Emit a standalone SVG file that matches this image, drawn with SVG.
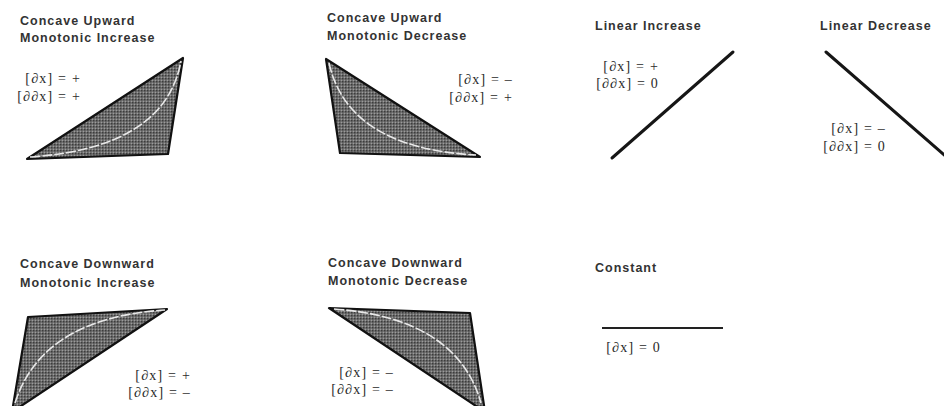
<svg xmlns="http://www.w3.org/2000/svg" width="944" height="406" viewBox="0 0 944 406">
<defs>
<pattern id="stip" width="3" height="3" patternUnits="userSpaceOnUse">
<rect width="3" height="3" fill="#6e6e6e"/>
<circle cx="0.8" cy="0.8" r="0.7" fill="#2a2a2a"/>
<circle cx="2.3" cy="2.2" r="0.5" fill="#bdbdbd"/>
</pattern>
</defs>
<style>
.t{font-family:"Liberation Sans",Arial,sans-serif;font-weight:bold;font-size:12.5px;letter-spacing:1px;fill:#333}
.f{font-family:"Liberation Serif","DejaVu Serif",serif;font-size:14px;letter-spacing:1.2px;fill:#2a2a2a;text-anchor:end}
.tri{fill:url(#stip);stroke:#111;stroke-width:2.2;stroke-linejoin:round}
.cv{fill:none;stroke:#e8e8e8;stroke-width:1.6;stroke-dasharray:10 2}
.ln{stroke:#161616;stroke-width:3;stroke-linecap:round;fill:none}
</style>
<rect width="944" height="406" fill="#fff"/>

<g id="concave-up-increase">
<text class="t" x="20" y="25">Concave Upward</text>
<text class="t" x="20" y="42">Monotonic Increase</text>
<polygon class="tri" points="27,159 183,58 168,154"/>
<path class="cv" d="M30,157 Q165,148 181,61"/>
<text class="f" x="81" y="83">[∂x] = +</text>
<text class="f" x="81" y="101">[∂∂x] = +</text>
</g>

<g id="concave-up-decrease">
<text class="t" x="327" y="22">Concave Upward</text>
<text class="t" x="327" y="40">Monotonic Decrease</text>
<polygon class="tri" points="326,59 340,153 480,157"/>
<path class="cv" d="M329,63 Q348,148 476,155"/>
<text class="f" x="513" y="84">[∂x] = –</text>
<text class="f" x="513" y="102">[∂∂x] = +</text>
</g>

<g id="linear-increase">
<text class="t" x="595" y="30">Linear Increase</text>
<line class="ln" x1="612" y1="158" x2="733" y2="52"/>
<text class="f" x="659" y="71">[∂x] = +</text>
<text class="f" x="659" y="88">[∂∂x] = 0</text>
</g>

<g id="linear-decrease">
<text class="t" x="820" y="30">Linear Decrease</text>
<line class="ln" x1="826" y1="52" x2="950" y2="160"/>
<text class="f" x="886" y="133">[∂x] = –</text>
<text class="f" x="886" y="151">[∂∂x] = 0</text>
</g>

<g id="concave-down-increase">
<text class="t" x="20" y="268">Concave Downward</text>
<text class="t" x="20" y="287">Monotonic Increase</text>
<polygon class="tri" points="28,317 167,309 12,412"/>
<path class="cv" d="M15,403 Q42,318 165,310"/>
<text class="f" x="191" y="380">[∂x] = +</text>
<text class="f" x="191" y="397">[∂∂x] = –</text>
</g>

<g id="concave-down-decrease">
<text class="t" x="328" y="267">Concave Downward</text>
<text class="t" x="328" y="285">Monotonic Decrease</text>
<polygon class="tri" points="329,308 470,313 485,412"/>
<path class="cv" d="M334,309 Q457,318 481,403"/>
<text class="f" x="394" y="377">[∂x] = –</text>
<text class="f" x="394" y="394">[∂∂x] = –</text>
</g>

<g id="constant">
<text class="t" x="595" y="272">Constant</text>
<line x1="602" y1="328" x2="723" y2="328" stroke="#222" stroke-width="2"/>
<text class="f" x="661" y="352">[∂x] = 0</text>
</g>
</svg>
